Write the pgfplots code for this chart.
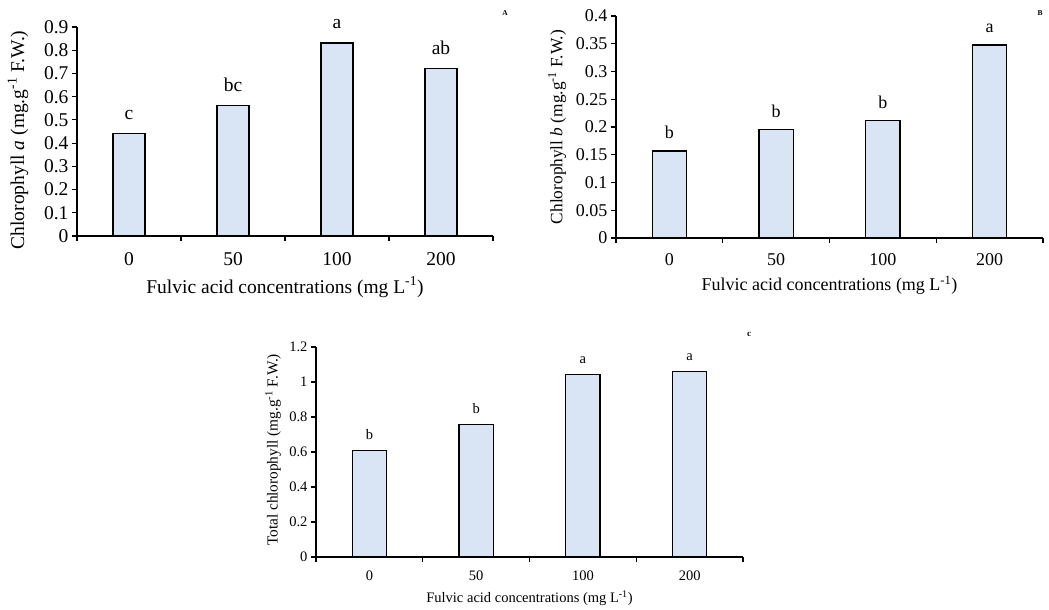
\documentclass[border=0pt]{standalone}
\usepackage{pgfplots}
\pgfplotsset{compat=1.18}
\usepackage{fontspec}
\setmainfont{Liberation Serif}
\definecolor{barfill}{HTML}{D9E4F4}
\pgfplotsset{
 panel/.style={
  ybar, scale only axis, axis lines=left,
  axis line style={-, line width=1.3pt, black},
  xmin=-0.5, xmax=3.5, ymin=0, clip=false,
  xtick={0,1,2,3}, xticklabels={0,50,100,200},
  minor xtick={-0.5,0.5,1.5,2.5,3.5},
  major x tick style={draw=none},
  minor x tick style={line width=1.2pt, black},
  y tick style={line width=1.2pt, black},
  tick align=outside, major tick length=5pt, minor tick length=5pt,
  /pgf/number format/assume math mode=true,
  yticklabel style={/pgf/number format/fixed, /pgf/number format/precision=2},
  point meta=explicit symbolic, nodes near coords,
  xlabel={Fulvic acid concentrations (mg L\textsuperscript{-1})},
  anchor=south west,
 },
 bars/.style={fill=barfill, draw=black, line width=1.3pt},
}
\begin{document}
\begin{tikzpicture}
\useasboundingbox (0pt,0pt) rectangle (1049pt,-610pt);
% Panel A
\begin{axis}[panel, at={(77pt,-236pt)}, width=416pt, height=209pt,
 ymax=0.9, ytick distance=0.1, bar width=0.31,
 font=\fontsize{19.5}{20}\selectfont,
 xticklabel style={yshift=-8pt},
 ylabel={Chlorophyll \textit{a} (mg.g\textsuperscript{-1} F.W.)},
 ylabel style={at={(axis description cs:-0.142,0.46)}, anchor=center},
 xlabel style={at={(axis description cs:0.5,-0.244)}, anchor=center},
 nodes near coords style={yshift=10pt}]
\addplot[bars] coordinates {(0,0.441)[c] (1,0.561)[bc] (2,0.831)[a] (3,0.720)[ab]};
\end{axis}
% Panel B
\begin{axis}[panel, at={(616pt,-238pt)}, width=427pt, height=222pt,
 ymax=0.4, ytick distance=0.05, bar width=0.32,
 font=\fontsize{18}{19}\selectfont,
 xticklabel style={yshift=-7pt},
 ylabel={Chlorophyll \textit{b} (mg.g\textsuperscript{-1} F.W.)},
 ylabel style={at={(axis description cs:-0.138,0.5)}, anchor=center, font=\fontsize{17.3}{18}\selectfont},
 xlabel style={at={(axis description cs:0.5,-0.212)}, anchor=center},
 nodes near coords style={yshift=8pt}]
\addplot[bars] coordinates {(0,0.157)[b] (1,0.195)[b] (2,0.212)[b] (3,0.348)[a]};
\end{axis}
% Panel C
\begin{axis}[panel, at={(316pt,-557pt)}, width=427pt, height=210pt,
 ymax=1.2, ytick distance=0.2, bar width=0.32,
 font=\fontsize{14.5}{15}\selectfont,
 xticklabel style={yshift=-5pt},
 ylabel={Total chlorophyll (mg.g\textsuperscript{-1} F.W.)},
 ylabel style={at={(axis description cs:-0.1007,0.51)}, anchor=center, font=\fontsize{15.3}{16}\selectfont},
 xlabel style={at={(axis description cs:0.5,-0.195)}, anchor=center},
 nodes near coords style={yshift=7pt}]
\addplot[bars] coordinates {(0,0.608)[b] (1,0.758)[b] (2,1.044)[a] (3,1.061)[a]};
\end{axis}
\node[font=\fontsize{7.5}{8}\selectfont\bfseries] at (505pt,-13pt) {A};
\node[font=\fontsize{7.5}{8}\selectfont\bfseries] at (1040pt,-13pt) {B};
\node[font=\fontsize{9}{9}\selectfont\bfseries] at (749pt,-334pt) {c};
\end{tikzpicture}
\end{document}
